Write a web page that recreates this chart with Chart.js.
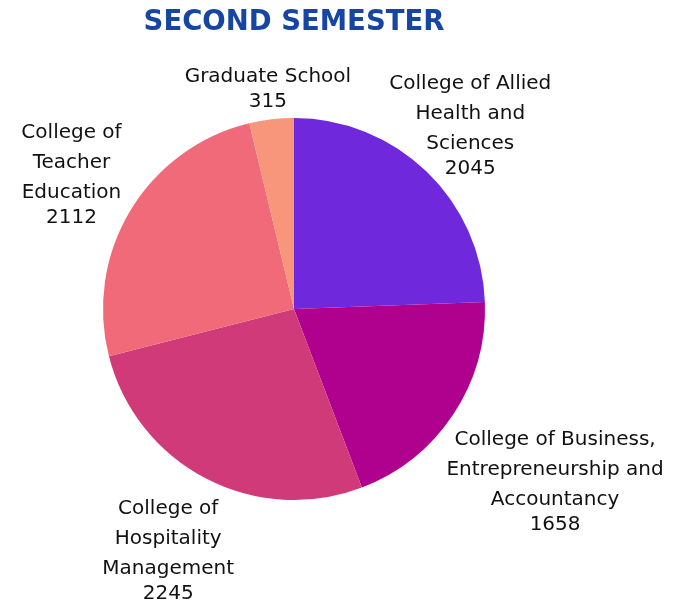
<!DOCTYPE html>
<html>
<head>
<meta charset="utf-8">
<script src="https://cdn.jsdelivr.net/npm/chart.js@4.4.0/dist/chart.umd.min.js"></script>
<style>
  html, body { margin: 0; padding: 0; background: #fff; }
  #wrap { width: 684px; height: 610px; }
</style>
</head>
<body>
<div id="wrap"><canvas id="pie"></canvas></div>
<script>
const categories = [
    ['College of Allied', 'Health and', 'Sciences'],
    ['College of Business,', 'Entrepreneurship and', 'Accountancy'],
    ['College of', 'Hospitality', 'Management'],
    ['College of', 'Teacher', 'Education'],
    ['Graduate School']
];
const enrollees = [2045, 1658, 2245, 2112, 315];
const sliceColors = ['#7028DC', '#B0008E', '#D03A78', '#F06A7A', '#F7967A'];
// how far out each label sits, as a multiple of the pie radius
const labelDistance = [1.33, 1.64, 1.43, 1.36, 1.16];

const labelFont = '20px "DejaVu Sans", sans-serif';

const outsideLabels = {
    id: 'outsideLabels',
    afterDatasetsDraw(chart) {
        const ctx = chart.ctx;
        const arcs = chart.getDatasetMeta(0).data;
        ctx.save();
        ctx.font = labelFont;
        ctx.fillStyle = '#111';
        ctx.textAlign = 'center';
        ctx.textBaseline = 'middle';
        arcs.forEach((arc, i) => {
            const mid = (arc.startAngle + arc.endAngle) / 2;
            const d = arc.outerRadius * labelDistance[i];
            const cx = arc.x + Math.cos(mid) * d;
            const cy = arc.y + Math.sin(mid) * d;
            const lines = categories[i];
            const blockH = (lines.length - 1) * 30 + 25;
            let y = cy - blockH / 2;
            lines.forEach(line => {
                ctx.fillText(line, cx, y);
                y += 30;
            });
            ctx.fillText(String(enrollees[i]), cx, y - 30 + 25);
        });
        ctx.restore();
    }
};

new Chart(document.getElementById('pie'), {
    type: 'pie',
    data: {
        labels: categories.map(c => c.join(' ')),
        datasets: [{
            data: enrollees,
            backgroundColor: sliceColors,
            borderWidth: 0
        }]
    },
    options: {
        responsive: true,
        maintainAspectRatio: false,
        animation: false,
        layout: { padding: { left: 103, right: 199, top: 0, bottom: 110 } },
        plugins: {
            legend: { display: false },
            tooltip: { enabled: false },
            title: {
                display: true,
                text: 'SECOND SEMESTER',
                color: '#1746A2',
                font: { family: '"DejaVu Sans", sans-serif', size: 27.5, weight: 'bold', lineHeight: 1.2 },
                padding: { top: 6, bottom: 79 }
            }
        }
    },
    plugins: [outsideLabels]
});
</script>
</body>
</html>
